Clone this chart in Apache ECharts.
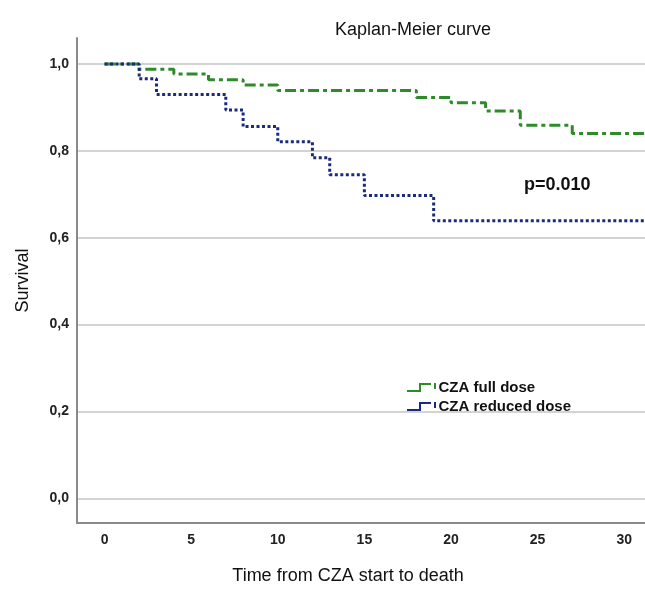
<!DOCTYPE html>
<html>
<head>
<meta charset="utf-8">
<title>Kaplan-Meier curve</title>
<script src="https://cdn.jsdelivr.net/npm/echarts@6/dist/echarts.min.js"></script>
<style>
  html, body { margin: 0; padding: 0; background: #fff; }
  #main { width: 645px; height: 590px; }
</style>
</head>
<body>
<div id="main"></div>
<script>
  // survival steps (time, survival)
  var fullTimes = [0, 2, 4, 6, 8, 10, 18, 20, 22, 24, 27, 31.2];
  var fullSurv = [1.0, 0.988, 0.977, 0.964, 0.952, 0.939, 0.923, 0.911, 0.892, 0.859, 0.840, 0.840];
  var reducedTimes = [0, 2, 3, 7, 8, 10, 12, 13, 15, 19, 31.2];
  var reducedSurv = [1.0, 0.966, 0.930, 0.894, 0.856, 0.821, 0.784, 0.745, 0.697, 0.639, 0.639];
  var xTicks = [0, 5, 10, 15, 20, 25, 30];
  var yTicks = [0, 0.2, 0.4, 0.6, 0.8, 1.0];

  function pairs(xs, ys) {
    var out = [];
    for (var i = 0; i < xs.length; i++) out.push([xs[i], ys[i]]);
    return out;
  }

  var myChart = echarts.init(document.getElementById('main'));
  var font = 'Liberation Sans, Arial, sans-serif';
  // little step glyph like the SPSS legend
  var stepIcon = 'path://M0,9 H12 V2 H24 V4 H14 V11 H0 Z M27,2 H29 V8 H27 Z';

  var option = {
    animation: false,
    title: {
      text: 'Kaplan-Meier curve',
      left: 408,
      textAlign: 'center',
      top: 16,
      textStyle: { fontFamily: font, fontSize: 18, fontWeight: 'normal', color: '#111' }
    },
    legend: {
      orient: 'vertical',
      left: 402,
      top: 375,
      icon: stepIcon,
      itemWidth: 30,
      itemHeight: 9,
      itemGap: 4,
      textStyle: { fontFamily: font, fontSize: 15, fontWeight: 'bold', color: '#111', padding: [0, 0, 0, -3] },
      data: ['CZA full dose', 'CZA reduced dose']
    },
    grid: { left: 77, right: 0, top: 38, bottom: 61 },
    xAxis: {
      type: 'value',
      min: -1.59,
      max: 31.2,
      name: 'Time from CZA start to death',
      nameLocation: 'middle',
      nameGap: 44,
      nameTextStyle: { fontFamily: font, fontSize: 18, color: '#111', padding: [0, 26, 0, 0] },
      axisLine: { show: true, onZero: false, lineStyle: { color: '#8a8a8a', width: 2 } },
      axisTick: { show: false, customValues: xTicks },
      axisLabel: {
        customValues: xTicks,
        margin: 10,
        fontFamily: font, fontSize: 14, fontWeight: 'bold', color: '#222'
      },
      splitLine: { show: false }
    },
    yAxis: {
      type: 'value',
      min: -0.057,
      max: 1.06,
      name: 'Survival',
      nameLocation: 'middle',
      nameGap: 45,
      nameTextStyle: { fontFamily: font, fontSize: 18, color: '#111' },
      axisLine: { show: true, onZero: false, lineStyle: { color: '#8a8a8a', width: 2 } },
      axisTick: { show: false, customValues: yTicks },
      axisLabel: {
        customValues: yTicks,
        margin: 8,
        fontFamily: font, fontSize: 14, fontWeight: 'bold', color: '#222',
        formatter: function (v) { return v.toFixed(1).replace('.', ','); }
      },
      splitLine: { show: true, lineStyle: { color: '#c4c4c4', width: 1.5 } }
    },
    graphic: [{
      type: 'text',
      left: 524,
      top: 176,
      style: { text: 'p=0.010', font: 'bold 18px ' + font, fill: '#111' }
    }],
    series: [
      {
        name: 'CZA full dose',
        type: 'line',
        step: 'end',
        symbol: 'none',
        data: pairs(fullTimes, fullSurv),
        color: '#2f8a2a',
        lineStyle: { color: '#2f8a2a', width: 3, type: [11, 4, 4, 4] }
      },
      {
        name: 'CZA reduced dose',
        type: 'line',
        step: 'end',
        symbol: 'none',
        data: pairs(reducedTimes, reducedSurv),
        color: '#1b2a7b',
        lineStyle: { color: '#1b2a7b', width: 3, type: [3, 2.5] }
      }
    ]
  };

  myChart.setOption(option);
</script>
</body>
</html>
